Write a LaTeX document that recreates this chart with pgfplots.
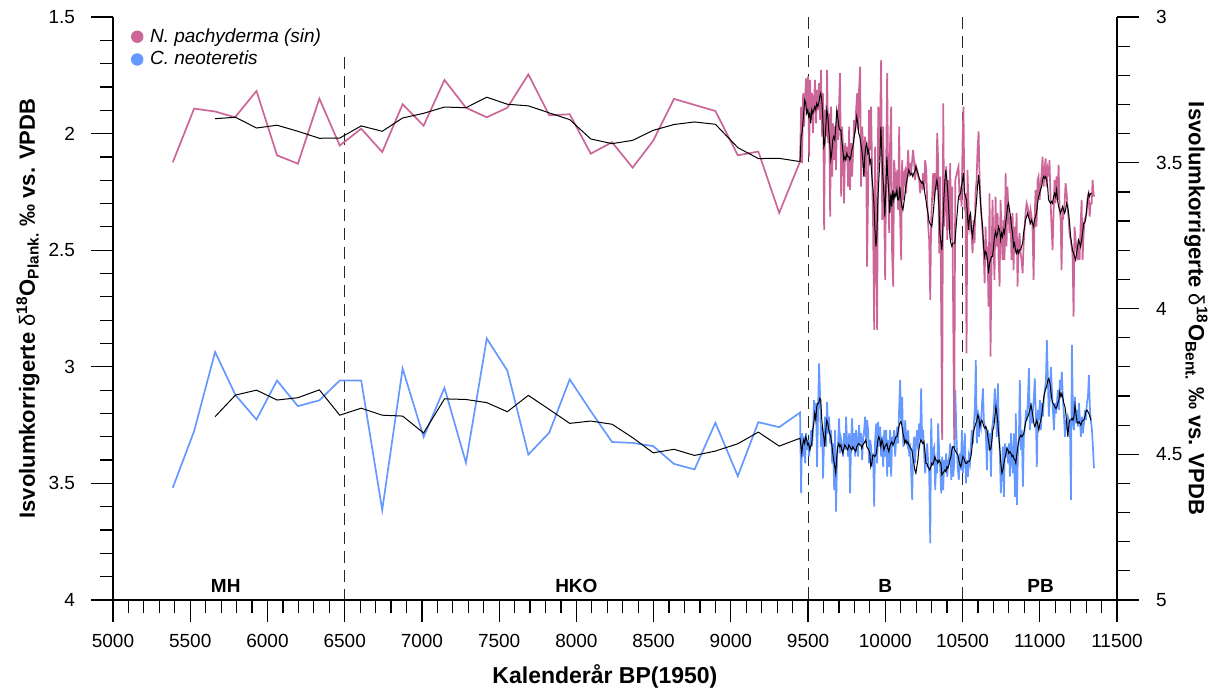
\documentclass[border=0pt]{standalone}
\usepackage{fontspec}
\setmainfont{Liberation Sans}
\usepackage{pgfplots}
\pgfplotsset{compat=1.18}
\definecolor{pinkc}{RGB}{204,102,153}
\definecolor{bluec}{RGB}{102,153,255}

\pgfplotsset{
  myax/.style={
    scale only axis, width=502pt, height=291.5pt,
    xmin=5000, xmax=11500,
    y dir=reverse,
    tick align=outside,
    major tick length=11pt, minor tick length=6.5pt,
    tick style={black, line width=0.6pt},
    axis line style={-, black, line width=0.6pt},
    tick label style={font=\fontsize{9.5}{11}\selectfont},
    label style={font=\bfseries\fontsize{11}{13}\selectfont},
    /pgf/number format/assume math mode=true,
    /pgf/number format/1000 sep={},
    scaled x ticks=false,
    clip=false,
  },
}
\tikzset{vline/.style={dash pattern=on 6pt off 3.5pt, line width=0.5pt, black!85}}

\begin{document}
\begin{tikzpicture}
\path[use as bounding box] (-56.5pt,-45.5pt) rectangle (553pt,300pt);

% right axis: C. neoteretis (benthic)
\begin{axis}[myax,
  ymin=3, ymax=5,
  axis x line=none, axis y line*=right,
  ytick={3,3.5,4,4.5,5}, minor y tick num=4,
  yticklabel style={xshift=5pt},
  ylabel={Isvolumkorrigerte {\mdseries δ}\textsuperscript{18}O\textsubscript{Bent.} ‰ vs. VPDB},
  ylabel style={at={(axis description cs:1.0787,0.5)}, rotate=180, anchor=center},
]
\draw[vline] (axis cs:6500,3.137) -- (axis cs:6500,5);
\draw[vline] (axis cs:9500,3) -- (axis cs:9500,5);
\draw[vline] (axis cs:10500,3) -- (axis cs:10500,5);
\node[font=\bfseries\fontsize{9.5}{11}\selectfont] at (axis cs:5730,4.952) {MH};
\node[font=\bfseries\fontsize{9.5}{11}\selectfont] at (axis cs:8000,4.952) {HKO};
\node[font=\bfseries\fontsize{9.5}{11}\selectfont] at (axis cs:10000,4.952) {B};
\node[font=\bfseries\fontsize{9.5}{11}\selectfont] at (axis cs:11005,4.952) {PB};

\addplot[bluec, line width=0.85pt, forget plot] coordinates {
(5387,4.615)(5525,4.421)(5661,4.149)(5793,4.297)(5929,4.381)(6062,4.247)(6197,4.335)(6336,4.315)(6468,4.247)(6607,4.247)
(6743,4.691)(6875,4.206)(7011,4.441)(7146,4.272)(7285,4.529)(7420,4.103)(7553,4.213)(7689,4.501)(7824,4.426)(7957,4.243)
(8093,4.352)(8231,4.458)(8364,4.461)(8497,4.472)(8632,4.533)(8765,4.552)(8900,4.392)(9045,4.575)(9178,4.390)(9313,4.407)
(9448,4.357)(9455,4.634)(9461,4.428)(9468,4.508)(9474,4.440)(9481,4.531)(9487,4.428)(9494,4.485)(9500,4.451)(9507,4.508)
(9513,4.463)(9520,4.417)(9526,4.474)(9532,4.417)(9539,4.314)(9545,4.383)(9552,4.325)(9558,4.543)(9565,4.348)(9571,4.188)
(9578,4.303)(9584,4.474)(9591,4.405)(9597,4.583)(9604,4.440)(9610,4.371)(9617,4.474)(9623,4.320)(9630,4.428)(9636,4.371)
(9643,4.463)(9649,4.417)(9656,4.531)(9662,4.463)(9669,4.623)(9675,4.417)(9681,4.697)(9688,4.508)(9694,4.463)(9701,4.377)
(9707,4.497)(9714,4.451)(9720,4.474)(9727,4.508)(9733,4.428)(9740,4.485)(9746,4.371)(9753,4.463)(9759,4.508)(9766,4.428)
(9772,4.634)(9779,4.451)(9785,4.377)(9792,4.485)(9798,4.428)(9805,4.508)(9811,4.417)(9818,4.463)(9824,4.508)(9830,4.400)
(9837,4.463)(9843,4.428)(9850,4.520)(9856,4.451)(9863,4.417)(9869,4.371)(9876,4.463)(9882,4.383)(9889,4.417)(9895,4.531)
(9902,4.451)(9908,4.474)(9915,4.543)(9921,4.497)(9928,4.680)(9934,4.451)(9941,4.394)(9947,4.531)(9954,4.388)(9960,4.474)
(9967,4.405)(9973,4.508)(9980,4.440)(9986,4.543)(9993,4.417)(9999,4.508)(10006,4.417)(10012,4.577)(10018,4.451)(10025,4.543)
(10031,4.417)(10038,4.577)(10044,4.440)(10051,4.474)(10057,4.417)(10064,4.508)(10070,4.451)(10077,4.405)(10083,4.463)(10090,4.337)
(10096,4.245)(10103,4.394)(10109,4.303)(10116,4.474)(10122,4.451)(10129,4.383)(10135,4.440)(10142,4.463)(10148,4.417)(10155,4.508)
(10161,4.463)(10167,4.554)(10174,4.657)(10180,4.485)(10187,4.440)(10193,4.531)(10200,4.451)(10206,4.417)(10213,4.485)(10219,4.394)
(10226,4.451)(10232,4.274)(10239,4.463)(10245,4.417)(10252,4.508)(10258,4.565)(10265,4.520)(10271,4.463)(10278,4.531)(10284,4.565)
(10291,4.806)(10297,4.377)(10304,4.531)(10310,4.485)(10317,4.474)(10323,4.623)(10330,4.520)(10336,4.565)(10342,4.394)(10349,4.497)
(10355,4.543)(10362,4.634)(10368,4.508)(10375,4.623)(10381,4.520)(10388,4.554)(10394,4.497)(10401,4.577)(10407,4.531)(10414,4.508)
(10420,4.463)(10427,4.588)(10433,4.474)(10440,4.577)(10446,4.531)(10453,4.280)(10463,4.474)(10470,4.554)(10476,4.588)(10483,4.497)
(10489,4.554)(10496,4.417)(10502,4.565)(10509,4.508)(10515,4.428)(10522,4.600)(10528,4.520)(10535,4.577)(10541,4.508)(10548,4.531)
(10554,4.474)(10560,4.417)(10567,4.463)(10573,4.405)(10580,4.337)(10586,4.177)(10593,4.463)(10599,4.348)(10606,4.440)(10612,4.383)
(10619,4.405)(10625,4.337)(10632,4.274)(10638,4.383)(10645,4.405)(10651,4.428)(10658,4.554)(10664,4.417)(10671,4.485)(10677,4.428)
(10684,4.577)(10690,4.417)(10696,4.394)(10703,4.348)(10709,4.274)(10716,4.348)(10722,4.440)(10729,4.257)(10735,4.417)(10742,4.508)
(10748,4.634)(10755,4.554)(10761,4.474)(10768,4.646)(10774,4.463)(10781,4.508)(10787,4.474)(10794,4.531)(10800,4.463)(10807,4.577)
(10813,4.428)(10820,4.520)(10826,4.565)(10832,4.428)(10839,4.646)(10845,4.360)(10852,4.674)(10858,4.508)(10865,4.440)(10871,4.245)
(10878,4.485)(10884,4.417)(10891,4.611)(10897,4.440)(10904,4.405)(10910,4.360)(10917,4.371)(10923,4.314)(10930,4.205)(10936,4.417)
(10943,4.325)(10949,4.394)(10956,4.348)(10962,4.303)(10968,4.240)(10975,4.371)(10981,4.543)(10988,4.348)(10994,4.383)(11001,4.314)
(11007,4.417)(11014,4.325)(11020,4.371)(11027,4.303)(11033,4.280)(11040,4.245)(11046,4.108)(11053,4.257)(11059,4.371)(11066,4.303)
(11072,4.200)(11079,4.280)(11085,4.348)(11092,4.417)(11098,4.325)(11105,4.360)(11111,4.325)(11117,4.280)(11124,4.348)(11130,4.245)
(11137,4.280)(11143,4.217)(11150,4.314)(11156,4.360)(11163,4.440)(11169,4.383)(11176,4.417)(11182,4.371)(11189,4.383)(11195,4.394)
(11202,4.657)(11208,4.125)(11215,4.371)(11221,4.417)(11228,4.303)(11234,4.394)(11241,4.348)(11247,4.405)(11254,4.325)(11260,4.383)
(11266,4.440)(11273,4.371)(11279,4.428)(11286,4.394)(11292,4.348)(11299,4.383)(11305,4.325)(11312,4.303)(11318,4.228)(11325,4.348)
(11331,4.383)(11338,4.417)(11344,4.474)(11351,4.548)
};
\addplot[black, line width=0.5pt, forget plot] coordinates {
(5661,4.371)(5793,4.297)(5929,4.280)(6062,4.314)(6197,4.306)(6336,4.279)(6468,4.366)(6607,4.342)(6743,4.366)(6875,4.369)
(7011,4.427)(7146,4.310)(7285,4.312)(7420,4.323)(7553,4.354)(7689,4.298)(7824,4.346)(7957,4.394)(8093,4.386)(8231,4.397)
(8364,4.443)(8497,4.495)(8632,4.483)(8765,4.504)(8900,4.489)(9045,4.464)(9178,4.424)(9313,4.472)
(9448,4.445)(9459,4.497)(9466,4.463)(9472,4.451)(9478,4.463)(9485,4.440)(9491,4.451)(9498,4.468)(9504,4.463)(9511,4.485)
(9517,4.474)(9524,4.463)(9530,4.417)(9537,4.394)(9543,4.360)(9550,4.383)(9556,4.337)(9563,4.325)(9569,4.325)(9576,4.308)
(9582,4.314)(9589,4.383)(9595,4.417)(9602,4.440)(9608,4.474)(9615,4.417)(9621,4.383)(9628,4.394)(9634,4.417)(9640,4.428)
(9647,4.440)(9653,4.463)(9660,4.497)(9666,4.520)(9673,4.543)(9679,4.565)(9686,4.508)(9692,4.474)(9699,4.463)(9705,4.474)
(9712,4.468)(9718,4.485)(9725,4.497)(9731,4.480)(9738,4.468)(9744,4.474)(9751,4.480)(9757,4.485)(9764,4.468)(9770,4.474)
(9777,4.480)(9783,4.485)(9790,4.474)(9796,4.480)(9802,4.485)(9809,4.491)(9815,4.474)(9822,4.468)(9828,4.463)(9835,4.468)
(9841,4.468)(9848,4.480)(9854,4.468)(9861,4.463)(9867,4.457)(9874,4.451)(9880,4.474)(9887,4.480)(9893,4.485)(9900,4.497)
(9906,4.543)(9913,4.531)(9919,4.503)(9926,4.503)(9932,4.508)(9939,4.503)(9945,4.485)(9952,4.451)(9958,4.440)(9965,4.451)
(9971,4.474)(9978,4.451)(9984,4.463)(9991,4.485)(9997,4.474)(10004,4.468)(10010,4.463)(10016,4.480)(10023,4.491)(10029,4.474)
(10036,4.463)(10042,4.457)(10049,4.468)(10055,4.463)(10062,4.451)(10068,4.440)(10075,4.440)(10081,4.428)(10088,4.405)(10094,4.394)
(10101,4.388)(10107,4.400)(10114,4.428)(10120,4.440)(10126,4.463)(10133,4.451)(10140,4.463)(10146,4.457)(10152,4.468)(10159,4.474)
(10165,4.480)(10172,4.485)(10178,4.508)(10185,4.531)(10191,4.554)(10198,4.565)(10204,4.543)(10211,4.520)(10217,4.485)(10224,4.463)
(10230,4.451)(10237,4.457)(10243,4.463)(10250,4.457)(10256,4.485)(10263,4.531)(10269,4.531)(10276,4.543)(10282,4.548)(10288,4.554)
(10295,4.543)(10301,4.531)(10308,4.537)(10314,4.525)(10321,4.508)(10327,4.520)(10334,4.520)(10340,4.531)(10347,4.520)(10353,4.525)
(10360,4.531)(10366,4.571)(10373,4.565)(10379,4.560)(10386,4.554)(10392,4.560)(10399,4.543)(10405,4.548)(10412,4.537)(10418,4.520)
(10425,4.508)(10431,4.485)(10437,4.474)(10444,4.474)(10450,4.485)(10470,4.503)(10476,4.520)(10483,4.537)(10489,4.543)(10496,4.525)
(10502,4.508)(10509,4.514)(10515,4.525)(10522,4.531)(10528,4.531)(10535,4.525)(10541,4.525)(10548,4.520)(10554,4.508)(10560,4.485)
(10567,4.440)(10573,4.417)(10580,4.405)(10586,4.394)(10593,4.383)(10599,4.365)(10606,4.377)(10612,4.405)(10619,4.388)(10625,4.383)
(10632,4.394)(10638,4.405)(10645,4.411)(10651,4.405)(10658,4.417)(10664,4.440)(10671,4.463)(10677,4.485)(10684,4.480)(10690,4.451)
(10696,4.417)(10703,4.405)(10709,4.371)(10716,4.337)(10722,4.360)(10729,4.394)(10735,4.440)(10742,4.485)(10748,4.531)(10755,4.565)
(10761,4.554)(10768,4.531)(10774,4.514)(10781,4.497)(10787,4.480)(10794,4.485)(10800,4.497)(10807,4.491)(10813,4.497)(10820,4.508)
(10826,4.503)(10832,4.514)(10839,4.520)(10845,4.531)(10852,4.497)(10858,4.474)(10865,4.451)(10871,4.440)(10878,4.434)(10884,4.440)
(10891,4.434)(10897,4.428)(10904,4.405)(10910,4.388)(10917,4.377)(10923,4.371)(10930,4.360)(10936,4.348)(10943,4.331)(10949,4.348)
(10956,4.371)(10962,4.394)(10968,4.405)(10975,4.394)(10981,4.383)(10988,4.400)(10994,4.417)(11001,4.394)(11007,4.383)(11014,4.360)
(11020,4.331)(11027,4.303)(11033,4.285)(11040,4.274)(11046,4.263)(11053,4.245)(11059,4.240)(11066,4.257)(11072,4.285)(11079,4.314)
(11085,4.325)(11092,4.331)(11098,4.337)(11105,4.343)(11111,4.337)(11117,4.325)(11124,4.314)(11130,4.285)(11137,4.303)(11143,4.291)
(11150,4.308)(11156,4.325)(11163,4.337)(11169,4.360)(11176,4.405)(11182,4.440)(11189,4.394)(11195,4.383)(11202,4.383)(11208,4.377)
(11215,4.383)(11221,4.371)(11228,4.331)(11234,4.360)(11241,4.388)(11247,4.394)(11254,4.388)(11260,4.394)(11266,4.400)(11273,4.388)
(11279,4.383)(11286,4.383)(11292,4.371)(11299,4.354)(11305,4.348)(11312,4.354)(11318,4.360)(11325,4.371)(11331,4.383)
};
\end{axis}

% left axis: N. pachyderma (sin) (planktonic)
\begin{axis}[myax,
  ymin=1.5, ymax=4,
  axis x line*=bottom, axis y line*=left,
  xtick={5000,5500,...,11500}, minor x tick num=4,
  ytick={1.5,2,2.5,3,3.5,4}, minor y tick num=4,
  yticklabel style={xshift=-4.5pt},
  xticklabel style={yshift=-2.5pt},
  xlabel={Kalenderår BP(1950)},
  xlabel style={at={(axis description cs:0.49,-0.1304)}, anchor=center, font=\bfseries\fontsize{11.5}{13}\selectfont},
  ylabel={Isvolumkorrigerte {\mdseries δ}\textsuperscript{18}O\textsubscript{Plank.} ‰ vs. VPDB},
  ylabel style={at={(axis description cs:-0.0847,0.5)}, anchor=center},
  legend style={at={(axis description cs:0.012,0.995)}, anchor=north west, draw=none, fill=none,
    font=\itshape\fontsize{9.5}{11}\selectfont, row sep=-1pt,
    /tikz/every odd column/.append style={column sep=1.5pt}},
  legend cell align=left,
]
\addlegendimage{only marks, mark=*, mark size=2.9pt, pinkc}
\addlegendentry{N. pachyderma (sin)}
\addlegendimage{only marks, mark=*, mark size=2.9pt, bluec}
\addlegendentry{C. neoteretis}

\addplot[pinkc, line width=0.85pt, forget plot] coordinates {
(5387,2.123)(5525,1.893)(5660,1.905)(5790,1.930)(5929,1.817)(6062,2.093)(6197,2.129)(6336,1.850)(6468,2.051)(6607,1.979)
(6743,2.079)(6875,1.874)(7011,1.966)(7146,1.770)(7285,1.889)(7420,1.930)(7553,1.889)(7689,1.746)(7824,1.921)(7957,1.917)
(8093,2.086)(8231,2.037)(8364,2.146)(8497,2.031)(8632,1.851)(8765,1.877)(8900,1.903)(9045,2.093)(9178,2.077)(9313,2.340)
(9448,2.120)(9455,1.884)(9461,2.127)(9468,1.827)(9474,1.970)(9481,1.841)(9487,1.763)(9494,1.898)(9500,1.755)(9507,2.099)
(9513,1.770)(9520,1.941)(9526,1.827)(9532,1.998)(9539,1.856)(9545,1.770)(9552,1.956)(9558,1.813)(9565,1.898)(9571,1.784)
(9578,1.941)(9584,1.727)(9591,2.013)(9597,1.827)(9604,2.413)(9610,1.898)(9617,2.013)(9623,1.727)(9630,2.041)(9636,1.913)
(9643,2.356)(9649,1.884)(9656,2.184)(9662,1.956)(9669,2.113)(9675,1.970)(9681,2.156)(9688,1.898)(9694,2.027)(9701,1.870)
(9707,1.741)(9714,2.270)(9720,1.970)(9727,2.070)(9733,2.299)(9740,2.041)(9746,2.113)(9753,2.056)(9759,2.227)(9766,1.970)
(9772,2.241)(9779,2.041)(9785,2.184)(9792,2.070)(9798,1.941)(9805,1.998)(9811,1.898)(9818,1.827)(9824,1.984)(9830,1.813)
(9837,1.713)(9843,2.227)(9850,1.970)(9856,2.041)(9863,2.184)(9869,2.013)(9876,2.084)(9882,2.570)(9889,2.227)(9895,1.898)
(9902,2.070)(9908,1.884)(9915,2.184)(9921,2.399)(9928,2.842)(9934,2.056)(9941,2.484)(9947,2.842)(9954,1.884)(9960,2.113)
(9967,1.927)(9973,1.684)(9980,2.370)(9986,1.970)(9993,2.327)(9999,2.627)(10006,2.113)(10012,1.741)(10018,2.170)(10025,2.427)
(10031,2.041)(10038,1.884)(10044,2.513)(10051,2.656)(10057,2.113)(10064,2.184)(10070,2.256)(10077,2.156)(10083,2.327)(10090,1.970)
(10096,2.370)(10103,2.542)(10109,2.113)(10116,2.284)(10122,2.170)(10129,2.156)(10135,2.256)(10142,2.156)(10148,2.070)(10155,2.184)
(10161,2.127)(10167,2.170)(10174,2.113)(10180,2.070)(10187,2.127)(10193,2.199)(10200,2.141)(10206,2.156)(10213,2.184)(10219,2.199)
(10226,2.256)(10232,2.213)(10239,2.227)(10245,2.170)(10252,2.241)(10258,2.113)(10265,2.156)(10271,2.284)(10278,2.399)(10284,2.456)
(10291,2.713)(10297,2.370)(10304,2.256)(10310,2.170)(10317,2.284)(10323,2.170)(10330,2.241)(10336,1.998)(10342,2.113)(10349,2.513)
(10355,2.184)(10368,3.313)(10375,1.870)(10381,2.399)(10388,2.299)(10394,2.141)(10401,2.456)(10407,2.199)(10414,2.413)(10420,2.127)
(10427,2.456)(10433,2.227)(10446,3.313)(10453,2.200)(10468,2.156)(10474,2.141)(10481,2.284)(10487,2.227)(10494,2.313)(10500,2.041)
(10506,1.884)(10513,2.327)(10519,2.256)(10526,2.942)(10532,2.156)(10539,2.313)(10545,2.399)(10552,2.370)(10558,2.427)(10565,2.513)
(10571,2.370)(10578,2.470)(10584,2.256)(10591,2.199)(10597,2.070)(10604,1.991)(10610,2.184)(10617,2.299)(10623,2.356)(10630,2.427)
(10636,2.484)(10643,2.642)(10649,2.399)(10655,2.542)(10662,2.484)(10668,2.742)(10675,2.256)(10681,2.956)(10688,2.542)(10694,2.284)
(10701,2.484)(10707,2.627)(10714,2.270)(10720,2.484)(10727,2.341)(10733,2.527)(10740,2.656)(10746,2.284)(10753,2.427)(10759,2.542)
(10766,2.370)(10772,2.542)(10779,2.170)(10785,2.484)(10791,2.227)(10798,2.341)(10804,2.427)(10811,2.356)(10817,2.542)(10824,2.341)
(10830,2.585)(10837,2.399)(10843,2.513)(10850,2.341)(10856,2.656)(10863,2.484)(10869,2.427)(10876,2.513)(10882,2.542)(10889,2.599)
(10895,2.484)(10902,2.399)(10908,2.341)(10915,2.299)(10921,2.313)(10927,2.341)(10934,2.370)(10940,2.327)(10947,2.356)(10953,2.399)
(10960,2.627)(10966,2.370)(10973,2.241)(10979,2.399)(10986,2.199)(10992,2.184)(10999,2.284)(11005,2.227)(11012,2.170)(11018,2.099)
(11025,2.227)(11031,2.156)(11038,2.106)(11044,2.227)(11051,2.156)(11057,2.184)(11063,2.113)(11070,2.284)(11076,2.399)(11083,2.499)
(11089,2.341)(11096,2.199)(11102,2.299)(11109,2.184)(11115,2.284)(11122,2.134)(11128,2.313)(11135,2.370)(11141,2.585)(11148,2.313)
(11154,2.341)(11161,2.299)(11167,2.213)(11174,2.256)(11180,2.313)(11187,2.370)(11193,2.427)(11200,2.456)(11206,2.484)(11212,2.513)
(11219,2.785)(11225,2.399)(11232,2.456)(11238,2.499)(11245,2.542)(11251,2.456)(11258,2.542)(11264,2.399)(11271,2.284)(11277,2.542)
(11284,2.427)(11290,2.370)(11297,2.356)(11303,2.341)(11310,2.270)(11316,2.256)(11323,2.356)(11329,2.299)(11336,2.299)(11342,2.199)
(11348,2.256)(11353,2.270)
};
\addplot[black, line width=0.5pt, forget plot] coordinates {
(5661,1.936)(5793,1.930)(5929,1.976)(6062,1.964)(6197,1.990)(6336,2.020)(6468,2.019)(6607,1.967)(6743,1.990)(6875,1.933)
(7011,1.913)(7146,1.886)(7285,1.889)(7420,1.844)(7553,1.874)(7689,1.881)(7824,1.911)(7957,1.940)(8093,2.023)(8231,2.043)
(8364,2.029)(8497,1.986)(8632,1.961)(8765,1.950)(8900,1.960)(9045,2.060)(9178,2.107)(9313,2.106)
(9448,2.120)(9455,2.013)(9461,1.998)(9470,1.927)(9478,1.856)(9485,1.870)(9491,1.913)(9498,1.898)(9504,1.927)(9511,1.913)
(9517,1.956)(9524,1.898)(9530,1.913)(9537,1.898)(9543,1.884)(9550,1.898)(9556,1.870)(9563,1.884)(9569,1.870)(9576,1.841)
(9582,1.827)(9589,1.856)(9595,1.927)(9602,2.056)(9608,2.041)(9615,1.970)(9621,1.898)(9628,1.927)(9634,1.984)(9640,2.041)
(9647,2.113)(9653,2.084)(9660,2.027)(9666,2.013)(9673,2.027)(9679,1.970)(9686,1.898)(9692,1.927)(9699,1.970)(9705,1.984)
(9712,1.984)(9718,2.027)(9725,2.070)(9731,2.113)(9738,2.099)(9744,2.113)(9751,2.084)(9757,2.099)(9764,2.099)(9770,2.113)
(9777,2.099)(9783,2.070)(9790,2.056)(9796,2.027)(9802,1.998)(9809,1.970)(9815,1.927)(9822,1.956)(9828,1.998)(9835,2.013)
(9841,2.041)(9848,2.070)(9854,2.113)(9861,2.184)(9867,2.099)(9874,2.056)(9880,2.041)(9887,2.084)(9893,2.070)(9900,2.127)
(9906,2.113)(9913,2.184)(9919,2.227)(9926,2.299)(9932,2.399)(9939,2.484)(9945,2.442)(9952,2.284)(9958,2.199)(9965,2.113)
(9971,1.970)(9978,2.084)(9984,2.184)(9991,2.256)(9997,2.356)(10004,2.227)(10010,2.099)(10016,2.184)(10023,2.256)(10029,2.341)
(10036,2.256)(10042,2.313)(10049,2.241)(10055,2.284)(10062,2.256)(10068,2.270)(10075,2.241)(10081,2.284)(10088,2.284)(10094,2.227)
(10101,2.284)(10107,2.313)(10114,2.327)(10120,2.299)(10126,2.270)(10133,2.227)(10140,2.199)(10146,2.177)(10152,2.156)(10159,2.170)
(10165,2.177)(10172,2.170)(10178,2.184)(10185,2.170)(10191,2.163)(10198,2.141)(10204,2.156)(10211,2.170)(10217,2.184)(10224,2.199)
(10230,2.206)(10237,2.213)(10243,2.206)(10250,2.227)(10256,2.256)(10263,2.284)(10269,2.313)(10276,2.341)(10282,2.370)(10288,2.384)
(10295,2.392)(10301,2.399)(10308,2.356)(10314,2.313)(10321,2.256)(10327,2.227)(10334,2.199)(10340,2.227)(10347,2.313)(10353,2.427)
(10360,2.463)(10366,2.499)(10373,2.399)(10379,2.284)(10386,2.199)(10392,2.156)(10399,2.199)(10405,2.256)(10412,2.341)(10418,2.442)
(10425,2.470)(10431,2.484)(10437,2.470)(10444,2.470)(10450,2.470)(10474,2.270)(10487,2.256)(10500,2.199)(10506,2.170)(10513,2.256)
(10519,2.270)(10526,2.284)(10532,2.356)(10539,2.413)(10545,2.356)(10552,2.341)(10558,2.413)(10565,2.442)(10571,2.399)(10578,2.370)
(10584,2.341)(10591,2.284)(10597,2.227)(10604,2.177)(10610,2.227)(10617,2.299)(10623,2.356)(10630,2.399)(10636,2.484)(10643,2.527)
(10649,2.506)(10655,2.513)(10662,2.542)(10668,2.599)(10675,2.556)(10681,2.542)(10688,2.527)(10694,2.527)(10701,2.484)(10707,2.442)
(10714,2.420)(10720,2.442)(10727,2.427)(10733,2.399)(10740,2.413)(10746,2.456)(10753,2.427)(10759,2.442)(10766,2.413)(10772,2.427)
(10779,2.384)(10785,2.356)(10791,2.313)(10798,2.299)(10804,2.327)(10811,2.356)(10817,2.399)(10824,2.427)(10830,2.484)(10837,2.470)
(10843,2.499)(10850,2.513)(10856,2.499)(10863,2.513)(10869,2.499)(10876,2.499)(10882,2.484)(10889,2.470)(10895,2.427)(10902,2.399)
(10908,2.370)(10915,2.356)(10921,2.341)(10927,2.356)(10934,2.370)(10940,2.384)(10947,2.370)(10953,2.384)(10960,2.399)(10966,2.370)
(10973,2.356)(10979,2.341)(10986,2.299)(10992,2.270)(10999,2.256)(11005,2.241)(11012,2.227)(11018,2.199)(11025,2.184)(11031,2.191)
(11038,2.184)(11044,2.199)(11051,2.227)(11057,2.284)(11063,2.291)(11070,2.299)(11076,2.291)(11083,2.299)(11089,2.270)(11096,2.256)
(11102,2.270)(11109,2.241)(11115,2.284)(11122,2.313)(11128,2.327)(11135,2.341)(11141,2.327)(11148,2.313)(11154,2.327)(11161,2.341)
(11167,2.327)(11174,2.299)(11180,2.313)(11187,2.341)(11193,2.384)(11200,2.442)(11206,2.470)(11212,2.499)(11219,2.513)(11225,2.527)
(11232,2.542)(11238,2.513)(11245,2.484)(11251,2.456)(11258,2.470)(11264,2.484)(11271,2.456)(11277,2.427)(11284,2.384)(11290,2.384)
(11297,2.370)(11303,2.327)(11310,2.284)(11316,2.256)(11323,2.270)(11329,2.256)(11336,2.256)
};
\end{axis}
\end{tikzpicture}
\end{document}
